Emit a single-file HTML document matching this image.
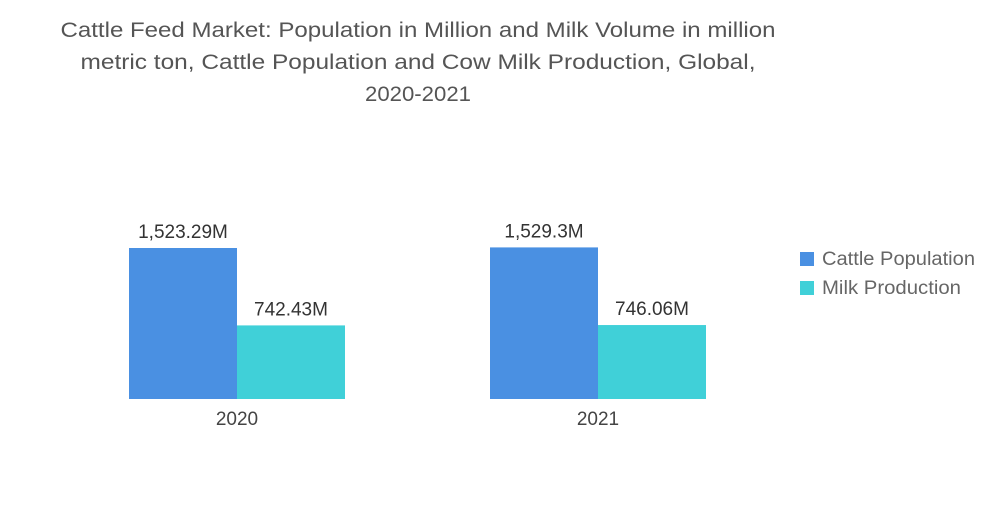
<!DOCTYPE html>
<html><head><meta charset="utf-8"><style>
body{margin:0;background:#fff;width:1000px;height:504px;overflow:hidden;font-family:"Liberation Sans",sans-serif}
svg text{font-family:"Liberation Sans",sans-serif}
</style></head><body>
<svg id="chart" width="1000" height="504">
<g fill="#555" font-size="21" text-anchor="middle">
<text x="418" y="37" textLength="715" lengthAdjust="spacingAndGlyphs">Cattle Feed Market: Population in Million and Milk Volume in million</text>
<text x="418" y="69" textLength="675" lengthAdjust="spacingAndGlyphs">metric ton, Cattle Population and Cow Milk Production, Global,</text>
<text x="418" y="101" textLength="106" lengthAdjust="spacingAndGlyphs">2020-2021</text>
</g>
<g id="bars"></g>
<g font-size="19" fill="#666">
<g><rect x="800" y="252" width="14" height="14" fill="#4a90e2"/><text x="822" y="265" textLength="153" lengthAdjust="spacingAndGlyphs">Cattle Population</text></g>
<g><rect x="800" y="281" width="14" height="14" fill="#40d0d8"/><text x="822" y="294" textLength="139" lengthAdjust="spacingAndGlyphs">Milk Production</text></g>
</g>
</svg>
<script>
const categories=["2020","2021"];
const cattle=[1523.29,1529.3];
const milk=[742.43,746.06];
const cattleLabels=["1,523.29M","1,529.3M"];
const milkLabels=["742.43M","746.06M"];
const base=399, groupX=[129,490], bw=108;
const y=v=>base-v*(151/1523.29);
const g=document.getElementById('bars');
const NS="http://www.w3.org/2000/svg";
function mk(t,a){const e=document.createElementNS(NS,t);for(const k in a)e.setAttribute(k,a[k]);return e;}
categories.forEach((c,i)=>{
  [[cattle,cattleLabels,"#4a90e2","cattle"],[milk,milkLabels,"#40d0d8","milk"]].forEach((s,j)=>{
    const x=groupX[i]+j*bw, top=y(s[0][i]);
    const r=mk('rect',{x:x,y:top,width:bw,height:base-top,fill:s[2]});
    
    
    g.appendChild(r);
    const t=mk('text',{x:x+bw/2,y:top-10,'text-anchor':'middle','font-size':'19',fill:'#333'});
    t.textContent=s[1][i];
    
    
    g.appendChild(t);
  });
  const t=mk('text',{x:groupX[i]+bw,y:base+26,'text-anchor':'middle','font-size':'19',fill:'#444'});
  t.textContent=c;
  
  
  g.appendChild(t);
});
</script>
</body></html>
